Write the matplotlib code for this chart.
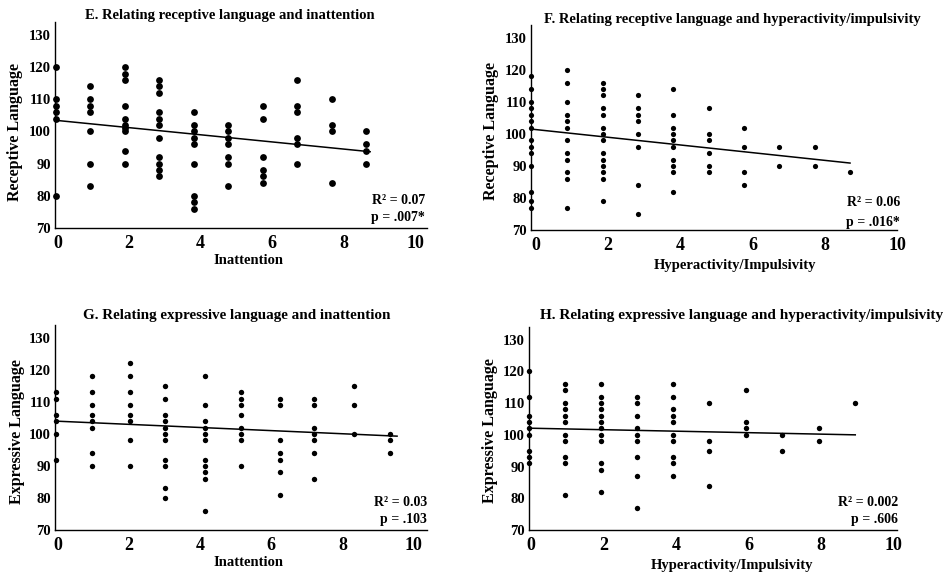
import matplotlib
matplotlib.use("Agg")
import matplotlib.pyplot as plt

plt.rcParams['font.family'] = ['Liberation Serif', 'DejaVu Serif']
plt.rcParams['font.weight'] = 'bold'

# ---- data (x in axis units, one list of y per column) ----
e_x = [-0.04, 0.91, 1.89, 2.85, 3.82, 4.78, 5.74, 6.69, 7.67, 8.63]
e_y = [[120, 110, 108, 106, 104, 80],
       [114, 110, 108, 106, 100, 90, 83],
       [120, 118, 116, 108, 104, 102, 101, 100, 94, 90],
       [116, 114, 112, 106, 104, 102, 98, 92, 90, 88, 86],
       [106, 102, 100, 98, 96, 90, 80, 78, 76],
       [102, 100, 98, 96, 92, 90, 83],
       [108, 104, 92, 88, 86, 84],
       [116, 108, 106, 98, 96, 90],
       [110, 102, 100, 84],
       [100, 96, 94, 90]]
e_fit_x = [0, 8.74]
e_fit_y = [103.4, 93.7]

f_x = [-0.12, 0.88, 1.86, 2.84, 3.81, 4.79, 5.76, 6.74, 7.72, 8.7]
f_y = [[118, 114, 110, 108, 106, 104, 102, 98, 96, 94, 90, 82, 79, 77],
       [120, 116, 110, 106, 104, 102, 98, 94, 92, 88, 86, 77],
       [116, 114, 112, 108, 106, 102, 100, 98, 94, 92, 90, 88, 86, 79],
       [112, 108, 106, 104, 100, 96, 84, 75],
       [114, 106, 102, 100, 98, 96, 92, 90, 88, 82],
       [108, 100, 98, 94, 90, 88],
       [102, 96, 88, 84],
       [96, 90],
       [96, 90],
       [88]]
f_fit_x = [-0.12, 8.7]
f_fit_y = [101.5, 90.9]

g_x = [-0.04, 0.96, 2.04, 3.02, 4.15, 5.15, 6.24, 7.21, 8.31, 9.34]
g_y = [[113, 111, 106, 104, 100, 92],
       [118, 113, 109, 106, 104, 102, 94, 90],
       [122, 118, 113, 109, 106, 104, 98, 90],
       [115, 111, 106, 104, 102, 100, 98, 92, 90, 83, 80],
       [118, 109, 104, 102, 100, 98, 92, 90, 88, 86, 76],
       [113, 111, 109, 106, 102, 100, 98, 90],
       [111, 109, 98, 94, 92, 88, 81],
       [111, 109, 102, 100, 98, 94, 86],
       [115, 109, 100],
       [100, 98, 94]]
g_fit_x = [-0.07, 9.53]
g_fit_y = [104.0, 99.3]

h_x = [-0.04, 0.93, 1.93, 2.92, 3.92, 4.9, 5.92, 6.92, 7.93, 8.94]
h_y = [[120, 112, 106, 104, 102, 100, 95, 93, 91],
       [116, 114, 110, 108, 106, 104, 100, 98, 93, 91, 81],
       [116, 112, 110, 108, 106, 104, 102, 100, 98, 91, 89, 82],
       [112, 110, 106, 102, 100, 98, 93, 87, 77],
       [116, 112, 108, 106, 104, 100, 98, 93, 91, 87],
       [110, 98, 95, 84],
       [114, 104, 102, 100],
       [100, 95],
       [102, 98],
       [110]]
h_fit_x = [-0.05, 8.94]
h_fit_y = [102.1, 100.0]

W, H = 947, 576
fig = plt.figure(figsize=(W / 100, H / 100), dpi=100)


def px_axes(l, t, r, b):
    return fig.add_axes([l / W, 1 - b / H, (r - l) / W, (b - t) / H])


def panel(box, xs, ys, fit_x, fit_y, xlim, msize, title, tpos, tsize,
          ylabel, ypos, xlabel, xpos, stats, spos):
    ax = px_axes(*box)
    for x, col in zip(xs, ys):
        ax.scatter([x] * len(col), col, s=msize, color='black',
                   linewidths=0, zorder=3, clip_on=False)
    ax.plot(fit_x, fit_y, color='black', linewidth=1.1, zorder=2)
    ax.set_xlim(*xlim)
    ax.set_ylim(70, 134)
    ax.set_xticks(range(0, 11, 2))
    ax.set_yticks(range(70, 131, 10))
    ax.tick_params(axis='x', length=0, pad=5, labelsize=13)
    ax.tick_params(axis='y', length=0, pad=3, labelsize=10.5)
    for lab in ax.get_xticklabels() + ax.get_yticklabels():
        lab.set_fontweight('bold')
    for side in ['top', 'right']:
        ax.spines[side].set_visible(False)
    for side in ['left', 'bottom']:
        ax.spines[side].set_linewidth(1.0)
    fig.text(tpos[0] / W, 1 - tpos[1] / H, title, ha='center', va='center',
             fontsize=tsize, fontweight='bold')
    fig.text(ypos[0] / W, 1 - ypos[1] / H, ylabel, ha='center', va='center',
             rotation=90, fontsize=11.5, fontweight='bold')
    fig.text(xpos[0] / W, 1 - xpos[1] / H, xlabel, ha='center', va='center',
             fontsize=10.5, fontweight='bold')
    fig.text(spos[0] / W, 1 - spos[1] / H, stats[0], ha='right', va='center',
             fontsize=10, fontweight='bold')
    fig.text(spos[0] / W, 1 - spos[2] / H, stats[1], ha='right', va='center',
             fontsize=10, fontweight='bold')
    return ax


panel((55, 22, 427, 228), e_x, e_y, e_fit_x, e_fit_y, (-0.07, 10.33), 24,
      "E. Relating receptive language and inattention", (230, 16), 10.5,
      "Receptive Language", (15, 132), "Inattention", (248, 260),
      ("R² = 0.07", "p = .007*"), (425, 200, 218))

panel((531, 25, 897, 230), f_x, f_y, f_fit_x, f_fit_y, (-0.13, 10.0), 14,
      "F. Relating receptive language and hyperactivity/impulsivity", (732, 20), 10.5,
      "Receptive Language", (491, 131), "Hyperactivity/Impulsivity", (735, 265),
      ("R² = 0.06", "p = .016*"), (900, 203, 222))

panel((55, 325, 427, 530), g_x, g_y, g_fit_x, g_fit_y, (-0.07, 10.37), 15,
      "G. Relating expressive language and inattention", (237, 316), 10.9,
      "Expressive Language", (17, 432), "Inattention", (248, 563),
      ("R² = 0.03", "p = .103"), (427, 502, 520))

panel((529, 327, 897, 530), h_x, h_y, h_fit_x, h_fit_y, (-0.05, 10.09), 15,
      "H. Relating expressive language and hyperactivity/impulsivity", (742, 316), 11,
      "Expressive Language", (490, 431), "Hyperactivity/Impulsivity", (732, 565),
      ("R² = 0.002", "p = .606"), (898, 502, 520))

fig.savefig("out.png", dpi=100)
